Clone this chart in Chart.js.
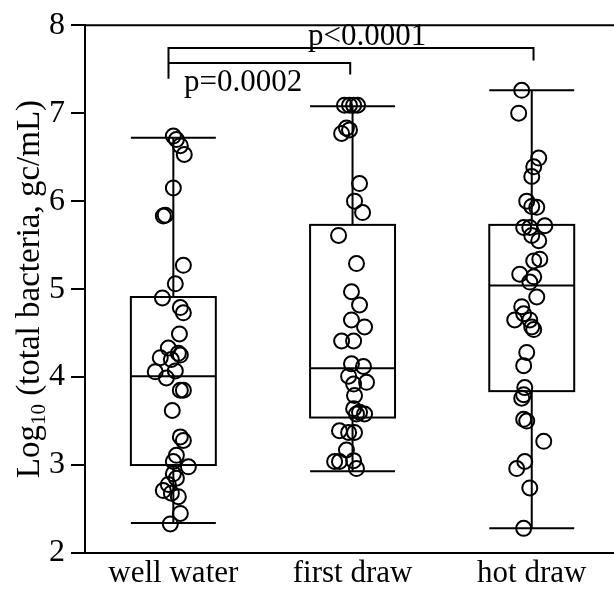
<!DOCTYPE html>
<html>
<head>
<meta charset="utf-8">
<script src="https://cdn.jsdelivr.net/npm/chart.js@4.4.1/dist/chart.umd.min.js"></script>
<style>
  body { margin: 0; background: #fff; overflow: hidden; }
  #wrap { width: 614px; height: 590px; }
</style>
</head>
<body>
<div id="wrap"><canvas id="box-chart" width="614" height="590"></canvas></div>
<script>
// categories + tick labels
const categories = ['well water', 'first draw', 'hot draw'];
const yTicks = [2, 3, 4, 5, 6, 7, 8];

// box stats (log10 gc/mL)
const whiskerLow  = [2.34, 2.93, 2.28];
const q1          = [3.00, 3.54, 3.84];
const median      = [4.01, 4.10, 5.04];
const q3          = [4.91, 5.73, 5.73];
const whiskerHigh = [6.72, 7.08, 7.26];

// raw points + horizontal jitter (category units)
const wellValues = [6.74, 6.70, 6.63, 6.53, 6.15, 5.83, 5.84, 5.27, 5.06, 4.90, 4.79, 4.73, 4.49, 4.33, 4.27, 4.22, 4.20, 4.25, 4.06, 3.99, 4.07, 3.85, 3.85, 3.62, 3.32, 3.28, 3.11, 3.04, 2.98, 2.90, 2.85, 2.71, 2.68, 2.64, 2.78, 2.45, 2.33];
const wellJitter = [0, .017, .039, .061, 0, -.056, -.045, .056, .011, -.061, .039, .056, .034, -.028, .028, -.073, -.011, .039, -.101, -.039, .011, .039, .056, -.006, .039, .056, .017, 0, .084, 0, .017, -.056, -.011, .028, -.028, .039, -.017];

const firstValues = [7.09, 7.09, 7.09, 7.09, 6.77, 6.83, 6.81, 6.20, 6.00, 5.87, 5.61, 5.29, 4.97, 4.82, 4.65, 4.57, 4.41, 4.41, 4.15, 4.12, 4.01, 3.94, 3.92, 3.79, 3.64, 3.60, 3.58, 3.58, 3.39, 3.37, 3.37, 3.17, 3.04, 3.04, 3.05, 2.96];
const firstJitter = [-.045, -.017, .006, .028, -.061, -.034, -.017, .039, .011, .056, -.078, .022, -.006, .039, -.006, .067, -.061, .006, -.006, .061, -.022, .078, .006, .011, .006, .039, .067, .022, -.073, -.022, .011, -.034, -.1, -.073, .006, .022];

const hotValues = [7.26, 7.00, 6.49, 6.39, 6.28, 6.00, 5.94, 5.93, 5.70, 5.72, 5.70, 5.61, 5.55, 5.34, 5.32, 5.17, 5.14, 5.08, 4.91, 4.80, 4.72, 4.65, 4.65, 4.57, 4.54, 4.28, 4.13, 3.88, 3.80, 3.76, 3.52, 3.50, 3.27, 3.04, 2.96, 2.74, 2.28];
const hotJitter = [-.056, -.073, .039, .011, 0, -.028, 0, .028, -.011, .073, -.045, 0, .039, .045, .011, -.067, .011, -.011, .028, -.056, -.045, -.095, -.011, 0, .011, -.028, -.045, -.039, -.045, -.056, -.045, -.028, .067, -.039, -.084, -.011, -.045];

// significance labels
const pLabels = ['p=0.0002', 'p<0.0001'];

const serif = '"Liberation Serif", "Times New Roman", serif';

function toPoints(vals, jit, idx) {
  return vals.map((v, k) => ({ x: idx + jit[k], y: v }));
}

const boxPlugin = {
  id: 'boxes',
  beforeDatasetsDraw(chart) {
    const { ctx } = chart;
    const x = chart.scales.x, y = chart.scales.y;
    const hw = 0.237;
    ctx.save();
    ctx.strokeStyle = '#000';
    ctx.lineWidth = 2;
    categories.forEach((c, i) => {
      const l = x.getPixelForValue(i - hw), r = x.getPixelForValue(i + hw), m = x.getPixelForValue(i);
      const yLo = y.getPixelForValue(whiskerLow[i]), yHi = y.getPixelForValue(whiskerHigh[i]);
      const y1 = y.getPixelForValue(q1[i]), y3 = y.getPixelForValue(q3[i]), ym = y.getPixelForValue(median[i]);
      ctx.beginPath();
      ctx.moveTo(m, yLo); ctx.lineTo(m, y1);
      ctx.moveTo(m, y3); ctx.lineTo(m, yHi);
      ctx.moveTo(l, yLo); ctx.lineTo(r, yLo);
      ctx.moveTo(l, yHi); ctx.lineTo(r, yHi);
      ctx.moveTo(l, ym); ctx.lineTo(r, ym);
      ctx.stroke();
      ctx.strokeRect(l, y3, r - l, y1 - y3);
    });
    ctx.restore();
  },
  afterDraw(chart) {
    const { ctx, chartArea } = chart;
    const x = chart.scales.x, y = chart.scales.y;
    ctx.save();
    ctx.strokeStyle = '#000';
    ctx.lineWidth = 2;
    // top frame line
    ctx.beginPath();
    ctx.moveTo(chartArea.left, chartArea.top);
    ctx.lineTo(chartArea.right, chartArea.top);
    ctx.stroke();

    // brackets
    const x0 = x.getPixelForValue(-0.027), x1 = x.getPixelForValue(0.987), x2 = x.getPixelForValue(2.01);
    const yOuter = y.getPixelForValue(7.74), yInner = y.getPixelForValue(7.57);
    ctx.beginPath();
    ctx.moveTo(x0, y.getPixelForValue(7.39)); ctx.lineTo(x0, yOuter); ctx.lineTo(x2, yOuter); ctx.lineTo(x2, y.getPixelForValue(7.60));
    ctx.moveTo(x0, yInner); ctx.lineTo(x1, yInner); ctx.lineTo(x1, y.getPixelForValue(7.44));
    ctx.stroke();

    ctx.fillStyle = '#000';
    ctx.font = '31px ' + serif;
    ctx.textAlign = 'center';
    ctx.textBaseline = 'alphabetic';
    ctx.fillText(pLabels[1], x.getPixelForValue(1.081), y.getPixelForValue(7.78));
    ctx.fillText(pLabels[0], x.getPixelForValue(0.389), y.getPixelForValue(7.25));

    // y title with subscript
    const big = '33px ' + serif, small = '21px ' + serif;
    const parts = [['Log', big, 0], ['10', small, 6], [' (total bacteria, gc/mL)', big, 0]];
    let total = 0;
    parts.forEach(p => { ctx.font = p[1]; total += ctx.measureText(p[0]).width; });
    ctx.translate(39, (chartArea.top + chartArea.bottom) / 2);
    ctx.rotate(-Math.PI / 2);
    ctx.textAlign = 'left';
    let cx = -total / 2;
    parts.forEach(p => {
      ctx.font = p[1];
      ctx.fillText(p[0], cx, p[2]);
      cx += ctx.measureText(p[0]).width;
    });
    ctx.restore();
  }
};

const pointStyle = {
  pointRadius: 7.5,
  pointBorderWidth: 2,
  pointBorderColor: '#000',
  pointBackgroundColor: 'rgba(0,0,0,0)'
};

new Chart(document.getElementById('box-chart'), {
  type: 'scatter',
  data: {
    datasets: [
      { label: categories[0], data: toPoints(wellValues, wellJitter, 0), ...pointStyle },
      { label: categories[1], data: toPoints(firstValues, firstJitter, 1), ...pointStyle },
      { label: categories[2], data: toPoints(hotValues, hotJitter, 2), ...pointStyle }
    ]
  },
  options: {
    responsive: false,
    animation: false,
    layout: { padding: { top: 20, right: 0, left: 0, bottom: 0 }, autoPadding: false },
    plugins: { legend: { display: false }, tooltip: { enabled: false } },
    scales: {
      x: {
        type: 'linear',
        min: -0.493,
        max: 2.459,
        afterBuildTicks: (s) => { s.ticks = categories.map((c, i) => ({ value: i })); },
        afterFit: (s) => { s.height = 37; },
        grid: { display: false, drawTicks: false },
        border: { display: true, color: '#000', width: 2 },
        ticks: {
          autoSkip: false,
          maxRotation: 0,
          padding: 2,
          color: '#000',
          font: { family: serif, size: 31 },
          callback: (v) => categories[v]
        }
      },
      y: {
        min: 2,
        max: 8,
        afterBuildTicks: (s) => { s.ticks = yTicks.map(v => ({ value: v })); },
        afterFit: (s) => { s.width = 85; },
        grid: { drawOnChartArea: false, drawTicks: true, tickLength: 14, color: '#000', lineWidth: 2 },
        border: { display: true, color: '#000', width: 2 },
        ticks: {
          padding: 6,
          color: '#000',
          font: { family: serif, size: 32 }
        }
      }
    }
  },
  plugins: [boxPlugin]
});
</script>
</body>
</html>
